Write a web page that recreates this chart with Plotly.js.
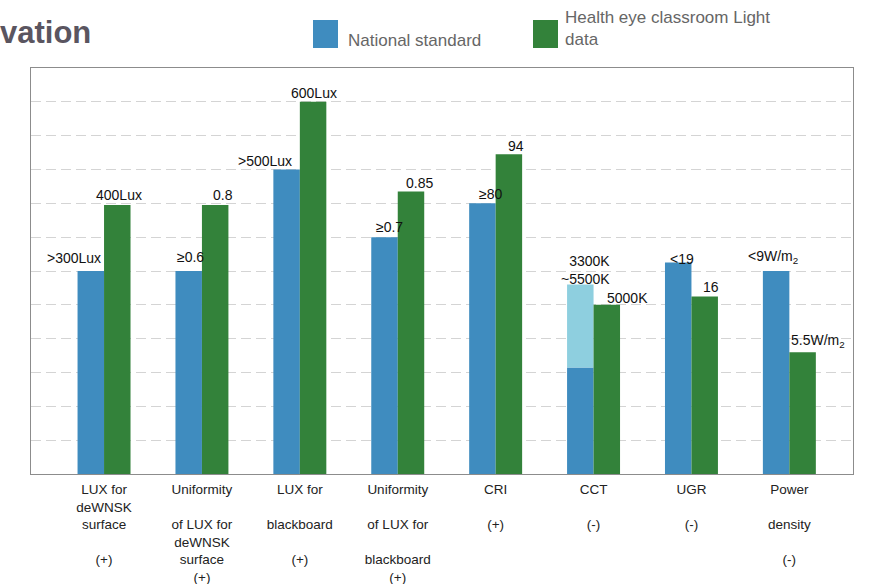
<!DOCTYPE html>
<html>
<head>
<meta charset="utf-8">
<script src="https://cdn.plot.ly/plotly-3.0.1.min.js"></script>
<style>html,body{margin:0;padding:0;background:#fff;}#chart{width:871px;height:584px;}</style>
</head>
<body>
<div id="chart"></div>
<script>
// ---- data ----
const categories = ['LUX for deWNSK surface', 'Uniformity of LUX for deWNSK surface', 'LUX for blackboard',
  'Uniformity of LUX for blackboard', 'CRI', 'CCT', 'UGR', 'Power density'];
const tickLabels = ['LUX for<br>deWNSK<br>surface<br><br>(+)',
  'Uniformity<br><br>of LUX for<br>deWNSK<br>surface<br>(+)',
  'LUX for<br><br>blackboard<br><br>(+)',
  'Uniformity<br><br>of LUX for<br><br>blackboard<br>(+)',
  'CRI<br><br>(+)', 'CCT<br><br>(-)', 'UGR<br><br>(-)', 'Power<br><br>density<br><br>(-)'];
const nationalStandard = [6, 6, 9, 7, 8, 3.15, 6.25, 6];
const cctRangeTop = 5.6;          // upper end of 3300K~5500K range (CCT)
const healthEye = [7.95, 7.95, 11, 8.35, 9.45, 5, 5.25, 3.6];
const nationalLabels = ['&gt;300Lux', '≥0.6', '&gt;500Lux', '≥0.7', '≥80', '3300K<br>~5500K', '&lt;19', '&lt;9W/m<sub>2</sub>'];
const healthLabels = ['400Lux', '0.8', '600Lux', '0.85', '94', '5000K', '16', '5.5W/m<sub>2</sub>'];
const seriesNames = ['National standard', 'Health eye classroom Light<br>data'];
const titleText = 'vation';

// ---- styling / placement ----
const BLUE = '#3f8cbf', GREEN = '#33823a', LIGHT = '#8ecfdf';
const FONT = 'Liberation Sans, Arial, Helvetica, sans-serif';
const M = {l: 31, r: 18, t: 68, b: 110};
const W = 871, H = 584;
const PW = W - M.l - M.r, PH = H - M.t - M.b;
const px = v => (v - M.l) / PW;
const py = v => (H - M.b - v) / PH;
const blueOff = {dx: [-30.5, -11, -35, -8, -5, 18, -9, -16], dy: [3, 4, -1, 0, -1, -4, -6, 3]};
const greenOff = {dx: [15, 21, 14, 22, 20, 34, 20, 29], dy: [0, 0, -1, -2, -2, -3, -1, 0]};

const cctIdx = categories.indexOf('CCT');
const lightY = categories.map((c, i) => i === cctIdx ? cctRangeTop - nationalStandard[i] : null);
const lightBase = categories.map((c, i) => i === cctIdx ? nationalStandard[i] : null);

const traces = [
  {type: 'bar', x: categories, y: nationalStandard, name: 'National standard', offsetgroup: 'a',
   marker: {color: BLUE, line: {width: 0}}, hoverinfo: 'skip'},
  {type: 'bar', x: categories, y: lightY, base: lightBase, name: 'range', offsetgroup: 'a',
   marker: {color: LIGHT, line: {width: 0}}, hoverinfo: 'skip'},
  {type: 'bar', x: categories, y: healthEye, name: 'Health eye', offsetgroup: 'b',
   marker: {color: GREEN, line: {width: 0}}, hoverinfo: 'skip'}
];

const annotations = [];
categories.forEach((c, i) => {
  const by = i === cctIdx ? cctRangeTop : nationalStandard[i];
  annotations.push({xref: 'x', yref: 'y', x: c, y: by, text: nationalLabels[i], showarrow: false,
    xanchor: i === cctIdx ? 'right' : 'center', yanchor: 'bottom', align: i === cctIdx ? 'right' : 'center',
    xshift: blueOff.dx[i], yshift: blueOff.dy[i], font: {size: 14, color: '#111', family: FONT}});
  annotations.push({xref: 'x', yref: 'y', x: c, y: healthEye[i], text: healthLabels[i], showarrow: false,
    xanchor: 'center', yanchor: 'bottom', xshift: greenOff.dx[i], yshift: greenOff.dy[i],
    font: {size: 14, color: '#111', family: FONT}});
});
// title
annotations.push({xref: 'paper', yref: 'paper', x: px(-2), y: py(33), xanchor: 'left', yanchor: 'middle',
  text: '<b>' + titleText + '</b>', showarrow: false, font: {size: 31, color: '#5a5560', family: FONT}});
// legend texts
annotations.push({xref: 'paper', yref: 'paper', x: px(346), y: py(40), xanchor: 'left', yanchor: 'middle',
  text: seriesNames[0], showarrow: false, align: 'left', font: {size: 17, color: '#666', family: FONT}});
annotations.push({xref: 'paper', yref: 'paper', x: px(563), y: py(29), xanchor: 'left', yanchor: 'middle',
  text: seriesNames[1], showarrow: false, align: 'left', font: {size: 17, color: '#666', family: FONT}});

const shapes = [
  {type: 'rect', xref: 'paper', yref: 'paper', x0: px(313), x1: px(338), y0: py(48), y1: py(20),
   fillcolor: BLUE, line: {width: 0}},
  {type: 'rect', xref: 'paper', yref: 'paper', x0: px(533), x1: px(558), y0: py(48), y1: py(20),
   fillcolor: GREEN, line: {width: 0}}
];

const layout = {
  width: W, height: H, margin: M, paper_bgcolor: '#fff', plot_bgcolor: '#fff',
  font: {family: FONT, color: '#222'},
  showlegend: false, barmode: 'group', bargap: 0.459, bargroupgap: 0,
  xaxis: {type: 'category', range: [-0.746, 7.65], tickvals: categories, ticktext: tickLabels,
    showgrid: false, zeroline: false, showline: true, mirror: true, linecolor: '#8c8c8c', linewidth: 1,
    ticks: '', tickfont: {size: 13.5, color: '#222', family: FONT}, ticklabelstandoff: 3, fixedrange: true},
  yaxis: {range: [0, 12], tick0: 0, dtick: 1, showticklabels: false, showgrid: true, gridcolor: '#d4d4d4',
    griddash: '10px,5px', gridwidth: 1, zeroline: false, showline: true, mirror: true,
    linecolor: '#8c8c8c', linewidth: 1, ticks: '', fixedrange: true},
  annotations: annotations, shapes: shapes
};

Plotly.newPlot('chart', traces, layout, {displayModeBar: false, staticPlot: true});
</script>
</body>
</html>
